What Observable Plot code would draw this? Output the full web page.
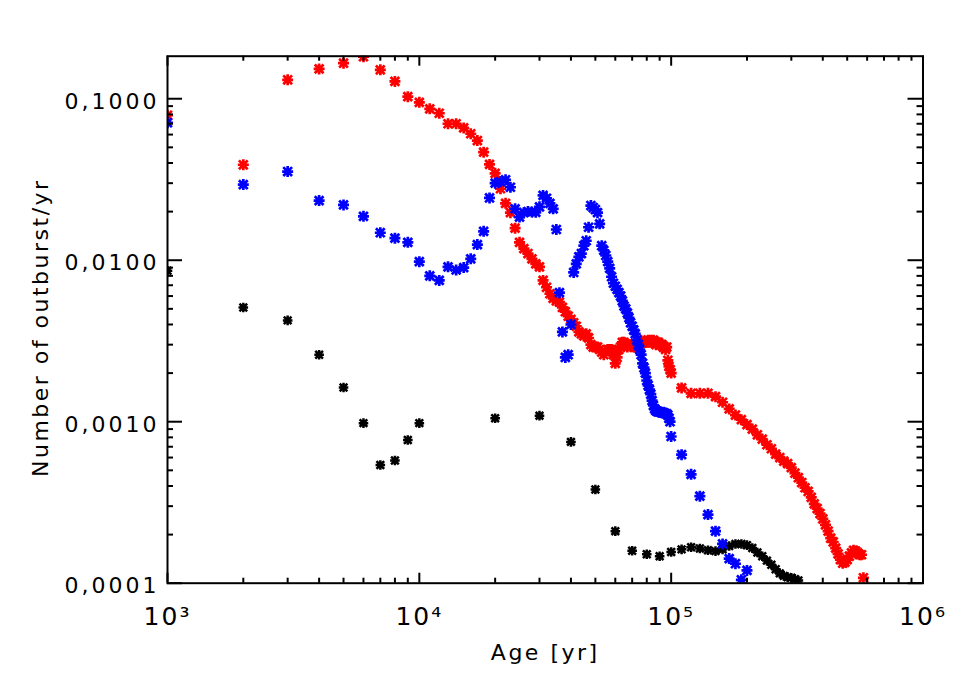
<!DOCTYPE html>
<html>
<head>
<meta charset="utf-8">
<script src="https://cdn.jsdelivr.net/npm/d3@7"></script>
<script src="https://cdn.jsdelivr.net/npm/@observablehq/plot@0.6"></script>
<style>
  html, body { margin: 0; padding: 0; background: #ffffff; }
  #chart svg { display: block; }
  g[aria-label="y-axis tick label"] text { letter-spacing: 3px; }
  g[aria-label="x-axis tick label"] text { letter-spacing: 2px; }
  g[aria-label="text"] text { letter-spacing: 2.5px; }
</style>
</head>
<body>
<div id="chart"></div>
<script>
// ---------- data (age in kyr, rate in outbursts / yr) ----------
const redAgeKyr = [
  1,2,3,4,5,6,7,8,9,10,11,12,13,14,15,16,17,18,19,20,
  21,22,23,24,25,26,27,28,29,30,31,32,33,34,35,36,37,38,39,40,
  41,42,43,44,45,46,47,48,49,50,51,52,53,54,55,56,57,58,59,60,
  61,62,63,64,65,66,67,68,69,70,71,72,73,74,75,76,77,78,79,80,
  81,82,83,84,85,86,87,88,89,90,91,92,93,94,95,96,97,98,99,100,
  110,120,130,140,150,160,170,180,190,200,210,220,230,240,250,260,270,280,290,300,
  310,320,330,340,350,360,370,380,390,400,410,420,430,440,450,460,470,480,490,500,
  510,520,530,540,550,560,570,580
];
const redRate = [
  0.079,0.039,0.131,0.153,0.166,0.182,0.151,0.128,0.103,0.095,
  0.0866,0.0813,0.070,0.070,0.066,0.0607,0.0551,0.0467,0.0392,0.0345,
  0.0277,0.0225,0.0197,0.0158,0.0129,0.0118,0.0110,0.0102,0.0095,0.0091,
  0.0075,0.0068,0.0062,0.0058,0.0056,0.0055,0.0051,0.0048,0.0045,0.0043,
  0.0041,0.0039,0.0036,0.0035,0.0034,0.0035,0.0033,0.0030,0.0029,0.0029,
  0.0029,0.0028,0.0027,0.0026,0.0027,0.0028,0.0028,0.0028,0.0026,0.0023,
  0.0025,0.0028,0.0029,0.0031,0.0031,0.0030,0.0029,0.0030,0.0030,0.0030,
  0.0029,0.0029,0.0029,0.0030,0.0031,0.0032,0.0031,0.0031,0.0031,0.0031,
  0.0032,0.0031,0.0032,0.0031,0.0032,0.0031,0.0030,0.0031,0.0031,0.0030,
  0.0030,0.0030,0.0029,0.0029,0.0028,0.0029,0.0024,0.0022,0.0021,0.0020,
  0.00162,0.00150,0.00150,0.00150,0.00143,0.00132,0.00120,0.00110,0.00103,0.00096,
  0.00090,0.00083,0.00078,0.00072,0.00068,0.00063,0.00060,0.00057,0.00055,0.00052,
  0.00048,0.00045,0.00042,0.00039,0.00037,0.00034,0.00031,0.00029,0.00027,0.00025,
  0.00023,0.00021,0.00019,0.00018,0.000165,0.000152,0.000140,0.000133,0.000135,0.000140,
  0.000147,0.000154,0.000160,0.000158,0.000154,0.000150,0.000150,0.000108
];

const blueAgeKyr = [
  1,2,3,4,5,6,7,8,9,10,11,12,13,14,15,16,17,18,19,20,
  21,22,23,24,25,26,27,28,29,30,31,32,33,34,35,36,37,38,39,40,
  41,42,43,44,45,46,47,48,49,50,51,52,53,54,55,56,57,58,59,60,
  61,62,63,64,65,66,67,68,69,70,71,72,73,74,75,76,77,78,79,80,
  81,82,83,84,85,86,87,88,89,90,91,92,93,94,95,96,97,98,99,100,
  110,120,130,140,150,160,170,180,190,200
];
const blueRate = [
  0.071,0.0294,0.0354,0.0234,0.0220,0.0187,0.0148,0.0137,0.0129,0.0098,
  0.0080,0.0075,0.0091,0.0087,0.0090,0.0102,0.0125,0.0151,0.0243,0.0300,
  0.0306,0.0315,0.0283,0.0208,0.0185,0.0197,0.0200,0.0199,0.0198,0.0214,
  0.0252,0.0242,0.0225,0.0208,0.0155,0.0063,0.0036,0.0025,0.0026,0.0040,
  0.0084,0.0095,0.0105,0.0110,0.0123,0.0132,0.0160,0.0218,0.0212,0.0206,
  0.0197,0.0168,0.0123,0.0115,0.0107,0.0098,0.0089,0.0079,0.0072,0.0069,
  0.0066,0.0063,0.0060,0.0056,0.0052,0.0050,0.0047,0.0044,0.0041,0.0039,
  0.0037,0.0035,0.0032,0.0030,0.0028,0.0026,0.0023,0.00216,0.0020,0.0018,
  0.00168,0.00158,0.00148,0.00135,0.00126,0.00120,0.00117,0.00116,0.00115,0.00115,
  0.00115,0.00114,0.00114,0.00113,0.00112,0.00112,0.00110,0.00105,0.00100,0.00081,
  0.000625,0.000472,0.000346,0.000266,0.000210,0.000175,0.000142,0.000132,0.000105,0.000120
];

const blackAgeKyr = [
  1,2,3,4,5,6,7,8,9,10,
  20,30,40,50,60,70,80,90,100,
  110,120,130,140,150,160,170,180,190,200,210,220,230,240,250,260,270,280,290,300,310,320
];
const blackRate = [
  0.0086,0.0051,0.00424,0.0026,0.00163,0.00098,0.00054,0.000575,0.00077,0.00098,
  0.00105,0.00109,0.00075,0.00038,0.00021,0.000159,0.000151,0.000147,0.000156,
  0.000162,0.000167,0.000164,0.000160,0.000158,0.000162,0.000170,0.000175,0.000175,0.000172,
  0.000165,0.000155,0.000147,0.000138,0.000130,0.000122,0.000115,0.000111,0.000109,0.000108,
  0.000106,0.000104
];

// ---------- axis ticks and labels ----------
const xMajorTicks = [1e3, 1e4, 1e5, 1e6];
const xTickLabels = ["10\u00B3", "10\u2074", "10\u2075", "10\u2076"];
const xMinorTicks = [
  2e3,3e3,4e3,5e3,6e3,7e3,8e3,9e3,
  2e4,3e4,4e4,5e4,6e4,7e4,8e4,9e4,
  2e5,3e5,4e5,5e5,6e5,7e5,8e5,9e5
];
const yMajorTicks = [1e-4, 1e-3, 1e-2, 1e-1];
const yTickLabels = ["0,0001", "0,0010", "0,0100", "0,1000"];
const yMinorTicks = [
  2e-4,3e-4,4e-4,5e-4,6e-4,7e-4,8e-4,9e-4,
  2e-3,3e-3,4e-3,5e-3,6e-3,7e-3,8e-3,9e-3,
  2e-2,3e-2,4e-2,5e-2,6e-2,7e-2,8e-2,9e-2
];
const xTitle = "Age [yr]";
const yTitle = "Number of outburst/yr";

// ---------- build tables ----------
const toRows = (ages, rates) => ages.map((a, i) => ({age: a * 1000, rate: rates[i]}));
const redRows = toRows(redAgeKyr, redRate);
const blueRows = toRows(blueAgeKyr, blueRate);
const blackRows = toRows(blackAgeKyr, blackRate);

// IDL-like asterisk: a "+" overlaid on an "x"
const asterisk = {
  draw(ctx, size) {
    const r = Math.sqrt(size / Math.PI);
    const d = r * 0.8;
    ctx.moveTo(-r, 0); ctx.lineTo(r, 0);
    ctx.moveTo(0, -r); ctx.lineTo(0, r);
    ctx.moveTo(-d, -d); ctx.lineTo(d, d);
    ctx.moveTo(-d, d); ctx.lineTo(d, -d);
  }
};

const W = 974, H = 696;
const mL = 167, mR = 51.5, mT = 55.7, mB = 113.3;
const pw = W - mL - mR, ph = H - mT - mB;

const xLabelMap = new Map(xMajorTicks.map((t, i) => [t, xTickLabels[i]]));
const yLabelMap = new Map(yMajorTicks.map((t, i) => [t, yTickLabels[i]]));

const chart = Plot.plot({
  width: W,
  height: H,
  marginLeft: mL,
  marginRight: mR,
  marginTop: mT,
  marginBottom: mB,
  style: {fontFamily: "'DejaVu Sans', sans-serif", background: "#ffffff", color: "#000000"},
  x: {type: "log", domain: [1e3, 1e6]},
  y: {type: "log", domain: [1e-4, 0.1834]},
  marks: [
    // series
    Plot.dot(blackRows, {x: "age", y: "rate", symbol: asterisk, r: 4.8, stroke: "#000000", strokeWidth: 2.5, clip: true}),
    Plot.dot(redRows, {x: "age", y: "rate", symbol: asterisk, r: 5.5, stroke: "#ff0000", strokeWidth: 2.7, clip: true}),
    Plot.dot(blueRows, {x: "age", y: "rate", symbol: asterisk, r: 5.5, stroke: "#0000ff", strokeWidth: 2.7, clip: true}),
    // inward ticks, IDL style, on all four sides
    Plot.tickY(yMajorTicks, {y: d => d, insetRight: pw - 15, strokeWidth: 2}),
    Plot.tickY(yMinorTicks, {y: d => d, insetRight: pw - 6, strokeWidth: 2}),
    Plot.tickY(yMajorTicks, {y: d => d, insetLeft: pw - 15, strokeWidth: 2}),
    Plot.tickY(yMinorTicks, {y: d => d, insetLeft: pw - 6, strokeWidth: 2}),
    Plot.tickX(xMajorTicks, {x: d => d, insetTop: ph - 10, strokeWidth: 2}),
    Plot.tickX(xMinorTicks, {x: d => d, insetTop: ph - 5, strokeWidth: 2}),
    Plot.tickX(xMajorTicks, {x: d => d, insetBottom: ph - 10, strokeWidth: 2}),
    Plot.tickX(xMinorTicks, {x: d => d, insetBottom: ph - 5, strokeWidth: 2}),
    Plot.frame({stroke: "#000000", strokeWidth: 2}),
    // tick labels
    Plot.axisX({anchor: "bottom", ticks: xMajorTicks, tickSize: 0, tickPadding: 24,
      tickFormat: d => xLabelMap.get(d), fontSize: 25, label: null}),
    Plot.axisY({anchor: "left", ticks: yMajorTicks, tickSize: 0, tickPadding: 8,
      tickFormat: d => yLabelMap.get(d), fontSize: 22, label: null, dy: 3}),
    // axis titles
    Plot.text([xTitle], {text: d => d, frameAnchor: "bottom", lineAnchor: "middle", textAnchor: "middle", dy: 70, fontSize: 22}),
    Plot.text([yTitle], {text: d => d, frameAnchor: "left", textAnchor: "middle", lineAnchor: "middle", dx: -127, dy: 8, rotate: -90, fontSize: 22})
  ]
});

document.getElementById("chart").appendChild(chart);
</script>
</body>
</html>
